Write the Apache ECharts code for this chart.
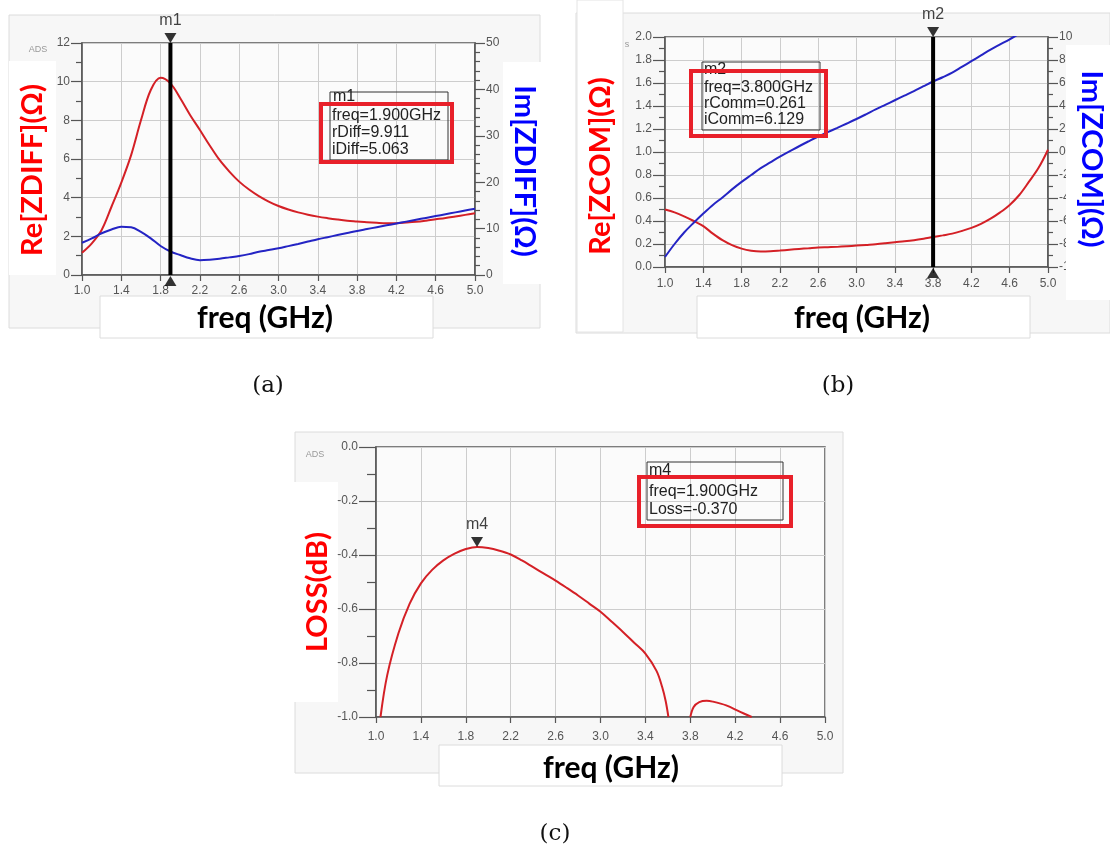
<!DOCTYPE html>
<html><head><meta charset="utf-8">
<script src="https://cdn.jsdelivr.net/npm/echarts@6/dist/echarts.min.js"></script>
<style>html,body{margin:0;padding:0;background:#fff;}#c{width:1110px;height:853px;}</style>
</head><body><div id="c"></div>
<script>
// ---------- Panel (a): differential impedance ----------
const freqA = [1.0,1.1,1.2,1.3,1.4,1.5,1.6,1.7,1.8,1.9,2.0,2.1,2.2,2.3,2.4,2.5,2.6,2.7,2.8,2.9,3.0,3.1,3.2,3.3,3.4,3.5,3.6,3.7,3.8,3.9,4.0,4.1,4.2,4.3,4.4,4.5,4.6,4.7,4.8,4.9,5.0];
const reDiff = [1.15,1.64,2.33,3.53,4.78,6.2,8.0,9.57,10.2,9.91,9.14,8.28,7.5,6.7,5.95,5.35,4.83,4.42,4.08,3.8,3.57,3.39,3.24,3.12,3.02,2.94,2.87,2.81,2.77,2.73,2.70,2.68,2.68,2.71,2.75,2.81,2.88,2.95,3.03,3.11,3.19];
const imDiff = [6.96,7.9,9.0,9.8,10.4,10.3,9.3,7.9,6.25,5.06,4.3,3.6,3.2,3.3,3.5,3.8,4.1,4.5,5.0,5.37,5.75,6.22,6.7,7.2,7.7,8.15,8.6,9.05,9.5,9.9,10.3,10.7,11.1,11.5,11.9,12.3,12.7,13.1,13.5,13.9,14.3];
const markerA = {name:'m1', freq:1.9, lines:['freq=1.900GHz','rDiff=9.911','iDiff=5.063']};

// ---------- Panel (b): common-mode impedance ----------
const freqB = [1.0,1.1,1.2,1.3,1.4,1.5,1.6,1.7,1.8,1.9,2.0,2.1,2.2,2.3,2.4,2.5,2.6,2.7,2.8,2.9,3.0,3.1,3.2,3.3,3.4,3.5,3.6,3.7,3.8,3.9,4.0,4.1,4.2,4.3,4.4,4.5,4.6,4.7,4.8,4.9,5.0];
const reCom = [0.50,0.475,0.44,0.40,0.355,0.29,0.233,0.19,0.16,0.142,0.135,0.137,0.143,0.15,0.157,0.163,0.169,0.172,0.175,0.18,0.186,0.192,0.198,0.206,0.215,0.223,0.233,0.246,0.261,0.275,0.29,0.313,0.34,0.375,0.42,0.475,0.54,0.626,0.74,0.86,1.02];
const imCom = [-9.13,-8.0,-7.0,-6.15,-5.35,-4.6,-3.95,-3.25,-2.6,-2.0,-1.4,-0.9,-0.4,0.05,0.5,0.93,1.35,1.73,2.1,2.48,2.87,3.28,3.7,4.1,4.5,4.9,5.3,5.72,6.13,6.5,6.9,7.4,7.9,8.4,8.9,9.35,9.8,10.3,10.8,11.3,11.8];
const markerB = {name:'m2', freq:3.8, lines:['m2','freq=3.800GHz','rComm=0.261','iComm=6.129']};

// ---------- Panel (c): loss ----------
const freqC1 = [1.04,1.1,1.2,1.3,1.4,1.5,1.6,1.7,1.8,1.9,2.0,2.1,2.2,2.3,2.4,2.5,2.6,2.7,2.8,2.9,3.0,3.1,3.2,3.3,3.4,3.5,3.55,3.58,3.605];
const lossC1 = [-1.0,-0.845,-0.69,-0.58,-0.505,-0.455,-0.42,-0.395,-0.378,-0.370,-0.374,-0.384,-0.398,-0.42,-0.445,-0.47,-0.495,-0.522,-0.55,-0.58,-0.61,-0.647,-0.685,-0.725,-0.765,-0.83,-0.89,-0.94,-1.0];
const freqC2 = [3.80,3.83,3.88,3.946,4.0,4.12,4.24,4.347];
const lossC2 = [-1.0,-0.963,-0.945,-0.94,-0.943,-0.957,-0.98,-1.0];
const markerC = {name:'m4', freq:1.9, value:-0.370, lines:['m4','freq=1.900GHz','Loss=-0.370']};

const xTicks = {min:1.0, max:5.0, interval:0.4};
const yA = {min:0, max:12, interval:2}, yA2 = {min:0, max:50, interval:10};
const yB = {min:0, max:2, interval:0.2}, yB2 = {min:-10, max:10, interval:2};
const yC = {min:-1, max:0, interval:0.2};

const zip = (xs, ys) => xs.map((x, i) => [x, ys[i]]);
const RED = '#d42026', BLUE = '#2424c4', AX = '#555';
const lblFont = 'Liberation Sans';

function xAxis(gi, margin) {
  return {type:'value', gridIndex:gi, min:xTicks.min, max:xTicks.max, interval:xTicks.interval,
    axisLine:{show:true, onZero:false, lineStyle:{color:AX, width:1.5}},
    axisTick:{show:true, length:6, lineStyle:{color:AX, width:1.2}},
    axisLabel:{color:'#555', fontSize:12, fontFamily:lblFont, margin:margin, formatter:v=>v.toFixed(1)},
    splitLine:{show:true, lineStyle:{color:'#cdcdcd', width:1}}};
}
function yAxis(gi, r, pos, dec, minorN, grid, tickLen) {
  return {type:'value', gridIndex:gi, position:pos, min:r.min, max:r.max, interval:r.interval,
    axisLine:{show:true, onZero:false, lineStyle:{color:AX, width:1.5}},
    axisTick:{show:true, length:tickLen, lineStyle:{color:AX, width:1.2}},
    minorTick:{show:true, splitNumber:minorN, length:Math.round(tickLen/2), lineStyle:{color:AX, width:1.2}},
    axisLabel:{color:'#555', fontSize:12, fontFamily:lblFont, margin:tickLen + 1, formatter:v=>v.toFixed(dec)},
    splitLine:{show:grid, lineStyle:{color:'#cdcdcd', width:1}}};
}
function curve(name, xi, yi, data, color) {
  return {type:'line', name, xAxisIndex:xi, yAxisIndex:yi, data, symbol:'none', smooth:0.35,
    lineStyle:{color, width:2}, z:5, silent:true};
}
function markerLine(xi, yi, f, r) {
  return {type:'line', xAxisIndex:xi, yAxisIndex:yi, data:[[f, r.min],[f, r.max]], symbol:'none',
    lineStyle:{color:'#000', width:4}, z:6, silent:true};
}
function tri(xi, yi, pt, up, label) {
  return {type:'scatter', xAxisIndex:xi, yAxisIndex:yi, data:[pt], symbol:'triangle', clip:false,
    symbolRotate: up ? 0 : 180, symbolSize:[12,10], symbolOffset:[0, up ? 6 : -5],
    itemStyle:{color:'#000'}, z:7, silent:true,
    label:{show:!!label, formatter:label||'', position:'top', distance:4, color:'#111', fontSize:16, fontFamily:lblFont}};
}

function box(x, y, w, h, fill, stroke, z) {
  return {type:'rect', shape:{x, y, width:w, height:h}, style:{fill, stroke:stroke||null, lineWidth:1}, z:z, silent:true};
}
function txt(t, x, y, font, fill, rot, z) {
  return {type:'text', x, y, rotation:rot||0, z:z||50, silent:true,
    style:{text:t, font, fill, align:'center', verticalAlign:'middle', textAlign:'center', textVerticalAlign:'middle'}};
}
function ltxt(t, x, y, z) {
  return {type:'text', x, y, z:z||60, silent:true,
    style:{text:t, font:'16px "Liberation Sans"', fill:'#222', align:'left', verticalAlign:'middle', textAlign:'left', textVerticalAlign:'middle'}};
}
const TF = 'bold 29px Lato';

const graphics = [
  box(9, 15, 531, 313, '#f7f7f7', '#dcdcdc', -20),
  box(576, 13, 534, 320, '#f7f7f7', '#dcdcdc', -20),
  box(295, 432, 548, 341, '#f7f7f7', '#dcdcdc', -20),
  box(9, 61, 47, 214, '#fff', null, -10),
  box(503, 62, 40, 222, '#fff', null, -10),
  box(100, 296, 333, 42, '#fff', '#dcdcdc', -10),
  box(577, 0, 46, 332, '#fff', '#e4e4e4', -10),
  box(1066, 45, 44, 255, '#fff', null, 40),
  box(697, 296, 333, 42, '#fff', '#dcdcdc', -10),
  box(293, 482, 45, 220, '#fff', null, -10),
  box(439, 745, 343, 41, '#fff', '#dcdcdc', -10),
  txt('Re[ZDIFF](Ω)', 33, 170, TF, '#ff0000', Math.PI/2),
  txt('Im[ZDIFF](Ω)', 524, 171, TF, '#0000ff', -Math.PI/2),
  txt('freq (GHz)', 265, 318, 'bold 30px Lato', '#000'),
  txt('Re[ZCOM](Ω)', 601, 166, TF, '#ff0000', Math.PI/2),
  txt('Im[ZCOM](Ω)', 1091, 159, TF, '#0000ff', -Math.PI/2),
  txt('freq (GHz)', 862, 318, 'bold 30px Lato', '#000'),
  txt('LOSS(dB)', 318, 592, TF, '#ff0000', Math.PI/2),
  txt('freq (GHz)', 611, 768, 'bold 30px Lato', '#000'),
  txt('ADS', 38, 50, '9px "Liberation Sans"', '#999'),
  txt('s', 627, 45, '9px "Liberation Sans"', '#999'),
  txt('ADS', 315, 455, '9px "Liberation Sans"', '#999'),
  txt('(a)', 268, 386, '23px "DejaVu Serif"', '#111'),
  txt('(b)', 838, 386, '23px "DejaVu Serif"', '#111'),
  txt('(c)', 555, 834, '23px "DejaVu Serif"', '#111'),
  box(330, 92, 118, 68, 'rgba(0,0,0,0)', '#333', 55),
  ltxt(markerA.name, 333, 97),
  ltxt(markerA.lines[0], 332, 116),
  ltxt(markerA.lines[1], 332, 133),
  ltxt(markerA.lines[2], 332, 150),
  {type:'rect', shape:{x:321, y:104, width:131, height:58}, style:{fill:null, stroke:'#e8202a', lineWidth:4}, z:70, silent:true},
  box(702, 62, 118, 68, 'rgba(0,0,0,0)', '#333', 55),
  ltxt(markerB.lines[0], 704, 70),
  ltxt(markerB.lines[1], 704, 88),
  ltxt(markerB.lines[2], 704, 104),
  ltxt(markerB.lines[3], 704, 120),
  {type:'rect', shape:{x:691, y:71, width:135, height:65}, style:{fill:null, stroke:'#e8202a', lineWidth:4}, z:70, silent:true},
  box(647, 462, 136, 58, 'rgba(0,0,0,0)', '#333', 55),
  ltxt(markerC.lines[0], 649, 471),
  ltxt(markerC.lines[1], 649, 492),
  ltxt(markerC.lines[2], 649, 510),
  {type:'rect', shape:{x:639, y:477, width:152, height:49}, style:{fill:null, stroke:'#e8202a', lineWidth:4}, z:70, silent:true}
];

const option = {
  animation:false,
  backgroundColor:'#ffffff',
  grid:[
    {left:82, top:43, width:393, height:232, show:true, backgroundColor:'#fbfbfb', borderColor:AX, borderWidth:1.5},
    {left:665, top:37, width:383, height:230, show:true, backgroundColor:'#fbfbfb', borderColor:AX, borderWidth:1.5},
    {left:376, top:447, width:449, height:270, show:true, backgroundColor:'#fbfbfb', borderColor:AX, borderWidth:1.5}
  ],
  xAxis:[xAxis(0, 10), xAxis(1, 11), xAxis(2, 14)],
  yAxis:[
    yAxis(0, yA, 'left', 0, 2, true, 11),
    yAxis(0, yA2, 'right', 0, 5, false, 10),
    yAxis(1, yB, 'left', 1, 2, true, 12),
    yAxis(1, yB2, 'right', 0, 2, false, 10),
    yAxis(2, yC, 'left', 1, 2, true, 17)
  ],
  series:[
    curve('Re[ZDIFF]', 0, 0, zip(freqA, reDiff), RED),
    curve('Im[ZDIFF]', 0, 1, zip(freqA, imDiff), BLUE),
    markerLine(0, 0, markerA.freq, yA),
    tri(0, 0, [markerA.freq, yA.max], false, markerA.name),
    tri(0, 0, [markerA.freq, yA.min], true),
    curve('Re[ZCOM]', 1, 2, zip(freqB, reCom), RED),
    curve('Im[ZCOM]', 1, 3, zip(freqB, imCom), BLUE),
    markerLine(1, 2, markerB.freq, yB),
    tri(1, 2, [markerB.freq, yB.max], false, markerB.name),
    tri(1, 2, [markerB.freq, yB.min], true),
    curve('Loss', 2, 4, zip(freqC1, lossC1), RED),
    curve('Loss2', 2, 4, zip(freqC2, lossC2), RED),
    tri(2, 4, [markerC.freq, markerC.value], false, markerC.name)
  ],
  graphic:{elements:graphics}
};
const chart = echarts.init(document.getElementById('c'));
chart.setOption(option);
</script></body></html>
